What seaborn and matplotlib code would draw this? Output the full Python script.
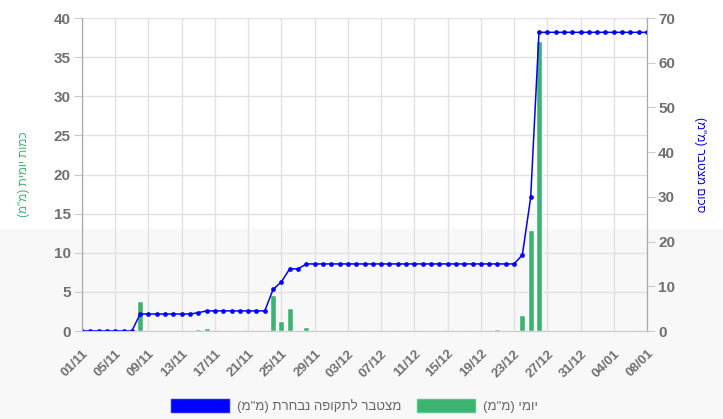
import matplotlib
matplotlib.use("Agg")
import matplotlib.pyplot as plt
from matplotlib.patches import Patch, Rectangle
import seaborn as sns
import pandas as pd

# daily rain (mm), one value per day from 01/11 to 08/01
daily = ([0.0] * 7 + [3.8] + [0.0] * 6 + [0.2, 0.4] + [0.0] * 7 +
         [4.6, 1.3, 3.0, 0.0, 0.5] + [0.0] * 22 + [0.2, 0.0, 0.0, 2.0, 12.9, 37.0] +
         [0.0] * 6 + [0.05] + [0.0] * 5 + [0.15])
# cumulative rain (mm) as drawn
cum = ([0.0] * 7 + [3.8] * 7 + [4.1] + [4.5] * 8 + [9.3, 11.0, 13.9, 13.9] +
       [15.0] * 26 + [17.0, 29.9] + [66.8] * 14)
tick_labels = ["01/11", "05/11", "09/11", "13/11", "17/11", "21/11", "25/11", "29/11",
               "03/12", "07/12", "11/12", "15/12", "19/12", "23/12", "27/12", "31/12",
               "04/01", "08/01"]

# hebrew strings given in visual (left to right) order
lbl_daily = '(מ"מ) ימוי'
lbl_cum = '(מ"מ) תרחבנ הפוקתל רבטצמ'
ylab_left = '(מ"מ) תימוי תומכ'
ylab_right = '(מ"מ) רבטצמ םוכס'

df = pd.DataFrame({"day": range(len(daily)), "daily": daily, "cum": cum})

sns.set_style("white")
plt.rcParams["font.family"] = ["Liberation Sans", "DejaVu Sans"]

green = "#3cb371"
blue = "#0000ff"
tick_col = "#707070"

fig = plt.figure(figsize=(7.23, 4.19), dpi=100)
fig.patches.append(Rectangle((0, 0), 1, 0.4535, transform=fig.transFigure,
                             color="#f8f8f8", zorder=-10))
ax = fig.add_axes([0.1134, 0.21, 0.7815, 0.747])
ax.set_facecolor("none")

sns.barplot(data=df, x="day", y="daily", color=green, width=0.72, saturation=1, ax=ax)
ax.set_xlim(0, 68)
ax.set_ylim(0, 40)
ax.set_yticks(range(0, 41, 5))
ax.set_xticks(range(0, 69, 4))
ax.set_xticklabels(tick_labels, rotation=45, ha="right", rotation_mode="anchor",
                   fontweight="bold")
for t in ax.get_yticklabels():
    t.set_fontweight("bold")
ax.grid(True, color="#e2e2e2", linewidth=1)
ax.set_axisbelow(True)
ax.tick_params(axis="y", length=6, color="#cccccc", labelcolor=tick_col, labelsize=11, pad=2)
ax.tick_params(axis="x", length=5, color="#e2e2e2", labelcolor=tick_col, labelsize=9.5, pad=7)
ax.set_xlabel("")
ax.set_ylabel(ylab_left, color=green, fontsize=8.5)
ax.yaxis.set_label_coords(-0.092, 0.5)
ax.spines["top"].set_visible(False)
ax.spines["left"].set_color("#aaaaaa")
ax.spines["right"].set_color("#aaaaaa")
ax.spines["bottom"].set_color("#cccccc")

ax2 = ax.twinx()
ax2.set_facecolor("none")
sns.lineplot(data=df, x="day", y="cum", color=blue, marker="o", markersize=3.4,
             markeredgewidth=0, linewidth=1.1, ax=ax2)
ax2.set_ylim(0, 70)
ax2.set_yticks(range(0, 71, 10))
for t in ax2.get_yticklabels():
    t.set_fontweight("bold")
ax2.tick_params(axis="y", length=6, color="#cccccc", labelcolor=tick_col, labelsize=11, pad=2)
ax2.set_ylabel(ylab_right, color=blue, fontsize=8.5, rotation=270)
ax2.yaxis.set_label_coords(1.105, 0.53)
ax2.spines["top"].set_visible(False)
ax2.spines["right"].set_color("#aaaaaa")
ax2.spines["left"].set_color("#aaaaaa")
ax2.spines["bottom"].set_color("#cccccc")
ax2.set_xlim(0, 68)

handles = [Patch(facecolor=blue, edgecolor="#2020ff", label=lbl_cum),
           Patch(facecolor=green, edgecolor="#5cc38a", label=lbl_daily)]
leg = fig.legend(handles=handles, loc="center", bbox_to_anchor=(0.49, 0.031), ncol=2,
                 frameon=False, handlelength=4.4, handleheight=1.2, fontsize=9.5,
                 columnspacing=1.2, handletextpad=0.6)
for t in leg.get_texts():
    t.set_color("#666666")

fig.savefig("out.png", dpi=100)
